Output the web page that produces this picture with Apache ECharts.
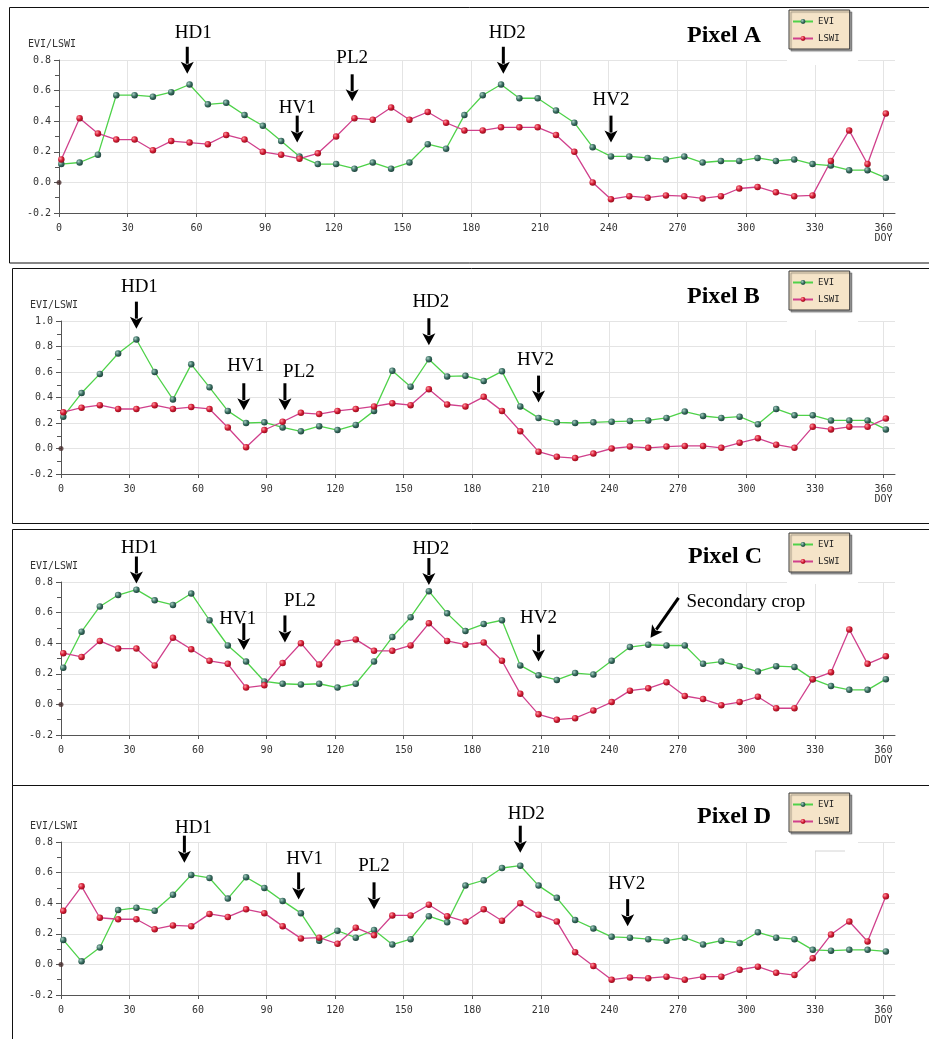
<!DOCTYPE html>
<html><head><meta charset="utf-8">
<script src="https://cdn.jsdelivr.net/npm/echarts@6/dist/echarts.min.js"></script>
<style>html,body{margin:0;padding:0;background:#fff}#c{width:929px;height:1039px}</style>
</head><body><div id="c"></div>
<script>
// ---------- DATA ----------
const doy = [1,9,17,25,33,41,49,57,65,73,81,89,97,105,113,121,129,137,145,153,161,169,177,
             185,193,201,209,217,225,233,241,249,257,265,273,281,289,297,305,313,321,329,337,345,353,361];
const xTicks = [0,30,60,90,120,150,180,210,240,270,300,330,360];
const panelNames = ['Pixel A','Pixel B','Pixel C','Pixel D'];
const seriesNames = ['EVI','LSWI'];
const yMaxes = [0.8, 1.0, 0.8, 0.8];
const originPoint = [[0, 0]];

const eviA = [0.12,0.13,0.18,0.57,0.57,0.56,0.59,0.64,0.51,0.52,0.44,0.37,0.27,0.17,0.12,0.12,0.09,0.13,0.09,0.13,0.25,0.22,0.44,
              0.57,0.64,0.55,0.55,0.47,0.39,0.23,0.17,0.17,0.16,0.15,0.17,0.13,0.14,0.14,0.16,0.14,0.15,0.12,0.11,0.08,0.08,0.03];
const lswiA = [0.15,0.42,0.32,0.28,0.28,0.21,0.27,0.26,0.25,0.31,0.28,0.20,0.18,0.155,0.19,0.30,0.42,0.41,0.49,0.41,0.46,0.39,0.34,
               0.34,0.36,0.36,0.36,0.31,0.20,0.00,-0.11,-0.09,-0.10,-0.085,-0.09,-0.105,-0.09,-0.04,-0.03,-0.065,-0.09,-0.085,0.14,0.34,0.12,0.45];

const eviB = [0.25,0.435,0.585,0.745,0.855,0.60,0.385,0.66,0.48,0.295,0.20,0.205,0.165,0.135,0.175,0.145,0.185,0.295,0.61,0.485,0.70,0.565,0.57,
              0.53,0.605,0.33,0.24,0.205,0.20,0.205,0.21,0.215,0.22,0.24,0.29,0.255,0.24,0.25,0.19,0.31,0.26,0.26,0.22,0.22,0.22,0.15];
const lswiB = [0.285,0.32,0.34,0.31,0.31,0.34,0.31,0.325,0.31,0.165,0.01,0.145,0.21,0.28,0.27,0.295,0.31,0.33,0.355,0.34,0.465,0.345,0.33,
               0.405,0.295,0.135,-0.025,-0.065,-0.075,-0.04,0.0,0.015,0.005,0.015,0.02,0.02,0.005,0.045,0.08,0.03,0.005,0.17,0.15,0.17,0.17,0.235];

const eviC = [0.24,0.475,0.64,0.715,0.75,0.68,0.65,0.725,0.55,0.385,0.28,0.15,0.135,0.13,0.135,0.11,0.135,0.28,0.44,0.57,0.74,0.595,0.48,
              0.525,0.55,0.255,0.19,0.16,0.205,0.195,0.285,0.375,0.39,0.385,0.385,0.265,0.28,0.25,0.215,0.25,0.245,0.165,0.12,0.095,0.095,0.165];
const lswiC = [0.335,0.31,0.415,0.365,0.365,0.255,0.435,0.36,0.285,0.265,0.11,0.125,0.27,0.40,0.26,0.405,0.425,0.35,0.35,0.385,0.53,0.415,0.39,
               0.405,0.285,0.07,-0.065,-0.10,-0.09,-0.04,0.015,0.09,0.105,0.145,0.055,0.035,-0.005,0.015,0.05,-0.025,-0.025,0.165,0.21,0.49,0.265,0.315];

const eviD = [0.16,0.02,0.11,0.355,0.37,0.35,0.455,0.585,0.565,0.43,0.57,0.50,0.415,0.335,0.155,0.22,0.175,0.225,0.13,0.165,0.315,0.275,0.515,
              0.55,0.63,0.645,0.515,0.435,0.29,0.235,0.18,0.175,0.165,0.155,0.175,0.13,0.155,0.14,0.21,0.175,0.165,0.095,0.09,0.095,0.095,0.085];
const lswiD = [0.35,0.51,0.305,0.295,0.295,0.23,0.255,0.25,0.33,0.31,0.36,0.335,0.25,0.17,0.175,0.135,0.24,0.19,0.32,0.32,0.39,0.315,0.28,
               0.36,0.285,0.40,0.325,0.28,0.08,-0.01,-0.10,-0.085,-0.09,-0.08,-0.10,-0.08,-0.08,-0.035,-0.015,-0.055,-0.07,0.04,0.195,0.28,0.15,0.445];

// annotations: label, DOY of arrow, value at arrow tip
const annTextA = ['HD1','HV1','PL2','HD2','HV2'];
const annDoyA  = [56, 104, 128, 194, 241];
const annTipA  = [0.71, 0.26, 0.53, 0.71, 0.26];
const annTextB = ['HD1','HV1','PL2','HD2','HV2'];
const annDoyB  = [33, 80, 98, 161, 209];
const annTipB  = [0.94, 0.30, 0.30, 0.81, 0.36];
const annTextC = ['HD1','HV1','PL2','HD2','HV2','Secondary crop'];
const annDoyC  = [33, 80, 98, 161, 209, 258];
const annTipC  = [0.79, 0.355, 0.405, 0.78, 0.28, 0.435];
const annTextD = ['HD1','HV1','PL2','HD2','HV2'];
const annDoyD  = [54, 104, 137, 201, 248];
const annTipD  = [0.665, 0.425, 0.36, 0.73, 0.25];

// ---------- STYLE / LAYOUT ----------
const annTextOffset = [
  [[6,-41],[0,-35],[0,-43],[4,-41],[0,-43]],
  [[3,-42],[2,-44],[14,-38],[2,-43],[-3,-43]],
  [[3,-36],[-6,-31],[15,-41],[2,-36],[0,-44],[36,-36]],
  [[9,-35],[6,-40],[0,-43],[6,-39],[-1,-42]]
];
const gridLayout = [
  {left:59, top:60, width:836, height:153},
  {left:61, top:321, width:834, height:153},
  {left:61, top:582, width:834, height:153},
  {left:61, top:842, width:834, height:153}
];
const frameLayout = [[9.5,7.5,255.5], [12.5,268.5,255], [12.5,529.5,256], [12.5,785.5,270]];
const titleLayout = [[687,24],[687,285],[688,545],[697,805]];
const legendTop = [10, 271, 533, 793];
const whiteBox = [[787,48,71,17],[787,309,71,21],[787,572,71,12],[787,834,71,17]];

const panels = [
  {evi: eviA, lswi: lswiA, text: annTextA, doyA: annDoyA, tip: annTipA},
  {evi: eviB, lswi: lswiB, text: annTextB, doyA: annDoyB, tip: annTipB},
  {evi: eviC, lswi: lswiC, text: annTextC, doyA: annDoyC, tip: annTipC},
  {evi: eviD, lswi: lswiD, text: annTextD, doyA: annDoyD, tip: annTipD}
];

const mono = 'DejaVu Sans Mono';
const serif = 'Liberation Serif';
const eviDot = {type:'radial', x:0.35, y:0.35, r:0.75, colorStops:[{offset:0,color:'#a9cfc4'},{offset:0.5,color:'#3a6f62'},{offset:1,color:'#183a33'}]};
const lswiDot = {type:'radial', x:0.35, y:0.35, r:0.75, colorStops:[{offset:0,color:'#ff9aa4'},{offset:0.5,color:'#d41c35'},{offset:1,color:'#8a0a18'}]};

const grids = [], xAxes = [], yAxes = [], series = [], titles = [], legends = [], graphics = [];

panels.forEach((p, k) => {
  grids.push(Object.assign({}, gridLayout[k]));
  xAxes.push({
    type:'value', gridIndex:k, min:0, max:365,
    axisLine:{show:true, onZero:false, lineStyle:{color:'#555', width:1}},
    axisTick:{show:true, length:4, inside:false, customValues: xTicks, lineStyle:{color:'#555'}},
    axisLabel:{customValues: xTicks, margin:10, color:'#333', fontFamily:mono, fontSize:10, lineHeight:10,
      formatter: v => v === 360 ? '360\nDOY' : String(v)},
    splitLine:{show:true, lineStyle:{color:'#e4e4e4', width:1}}
  });
  yAxes.push({
    type:'value', gridIndex:k, min:-0.2, max:yMaxes[k], interval:0.2,
    name:'EVI/LSWI', nameLocation:'end', nameGap:11,
    nameTextStyle:{fontFamily:mono, fontSize:10, color:'#333', align:'center', padding:[0,14,0,0]},
    axisLine:{show:true, lineStyle:{color:'#555', width:1}},
    axisTick:{show:true, length:5, lineStyle:{color:'#555'}},
    minorTick:{show:true, splitNumber:2, length:4, lineStyle:{color:'#555'}},
    axisLabel:{margin:8, color:'#333', fontFamily:mono, fontSize:10, formatter: v => v.toFixed(1)},
    splitLine:{show:true, lineStyle:{color:'#e4e4e4', width:1}}
  });
  series.push({
    type:'line', name:seriesNames[0], xAxisIndex:k, yAxisIndex:k,
    data: doy.map((d,i) => [d, p.evi[i]]),
    symbol:'circle', symbolSize:6.5, showSymbol:true,
    lineStyle:{color:'#4fd24a', width:1.3}, itemStyle:{color:eviDot},
    emphasis:{disabled:true}, z:3
  });
  series.push({
    type:'line', name:seriesNames[1], xAxisIndex:k, yAxisIndex:k,
    data: doy.map((d,i) => [d, p.lswi[i]]),
    symbol:'circle', symbolSize:6.5, showSymbol:true,
    lineStyle:{color:'#d0408c', width:1.3}, itemStyle:{color:lswiDot},
    emphasis:{disabled:true}, z:3
  });
  series.push({
    type:'scatter', name:'origin', xAxisIndex:k, yAxisIndex:k, data: originPoint,
    symbolSize:5, itemStyle:{color:'#4a3030'}, z:2, emphasis:{disabled:true}
  });
  const offs = annTextOffset[k];
  series.push({
    type:'custom', name:'ann'+k, xAxisIndex:k, yAxisIndex:k, clip:false, z:5,
    data: p.doyA.map((d,i) => [d, p.tip[i]]),
    renderItem: (params, api) => {
      const i = params.dataIndex;
      const tip = api.coord([api.value(0), api.value(1)]);
      const diag = p.text[i] === 'Secondary crop';
      const tail = diag ? [tip[0]+28, tip[1]-40] : [tip[0], tip[1]-27];
      let ux = tail[0]-tip[0], uy = tail[1]-tip[1];
      const L = Math.hypot(ux, uy); ux/=L; uy/=L;
      const px = -uy, py = ux;
      const hl = 12, hw = 6.5;
      const b = [tip[0]+ux*hl, tip[1]+uy*hl];
      const o = offs[i];
      return {type:'group', children:[
        {type:'line', shape:{x1:tip[0]+ux*(hl-2), y1:tip[1]+uy*(hl-2), x2:tail[0], y2:tail[1]}, style:{stroke:'#000', lineWidth:3}},
        {type:'polygon', shape:{points:[[tip[0],tip[1]],[b[0]+px*hw,b[1]+py*hw],[b[0]-ux*3, b[1]-uy*3],[b[0]-px*hw,b[1]-py*hw]]}, style:{fill:'#000'}},
        {type:'text', x: tip[0]+o[0], y: tip[1]+o[1], style:{text:p.text[i], font:'19px "'+serif+'"', fill:'#000',
          align: diag ? 'left' : 'center', verticalAlign:'middle'}}
      ]};
    }
  });
  titles.push({text:panelNames[k], left:titleLayout[k][0], top:titleLayout[k][1], padding:0,
    textStyle:{fontFamily:serif, fontWeight:'bold', fontSize:24, color:'#000'}});
  legends.push({
    data: seriesNames, left:789, top:legendTop[k], orient:'vertical',
    backgroundColor:'#f5e4c8', borderColor:'#3a3a3a', borderWidth:1,
    shadowColor:'rgba(0,0,0,0.35)', shadowOffsetX:2, shadowOffsetY:2, shadowBlur:1,
    padding:[4,10,3,3], itemGap:2, itemWidth:20, itemHeight:6,
    textStyle:{fontFamily:mono, fontSize:9, color:'#222', lineHeight:15},
    selectedMode:false
  });
  const f = frameLayout[k];
  graphics.push({type:'rect', z:0, shape:{x:f[0], y:f[1], width:940, height:f[2]}, style:{fill:null, stroke:'#111', lineWidth:1}, silent:true});
  const w = whiteBox[k];
  graphics.push({type:'rect', z:1, shape:{x:w[0], y:w[1], width:w[2], height:w[3]}, style:{fill:'#fff'}, silent:true});
});
graphics.push({type:'line', z:1, shape:{x1:815, y1:851, x2:845, y2:851}, style:{stroke:'#d4d4d4', lineWidth:1}, silent:true});

const chart = echarts.init(document.getElementById('c'), null, {renderer:'canvas'});
chart.setOption({
  animation:false,
  backgroundColor:'#fff',
  title: titles, legend: legends, grid: grids, xAxis: xAxes, yAxis: yAxes, series: series,
  graphic: graphics,
  tooltip:{show:false}
});
</script></body></html>
